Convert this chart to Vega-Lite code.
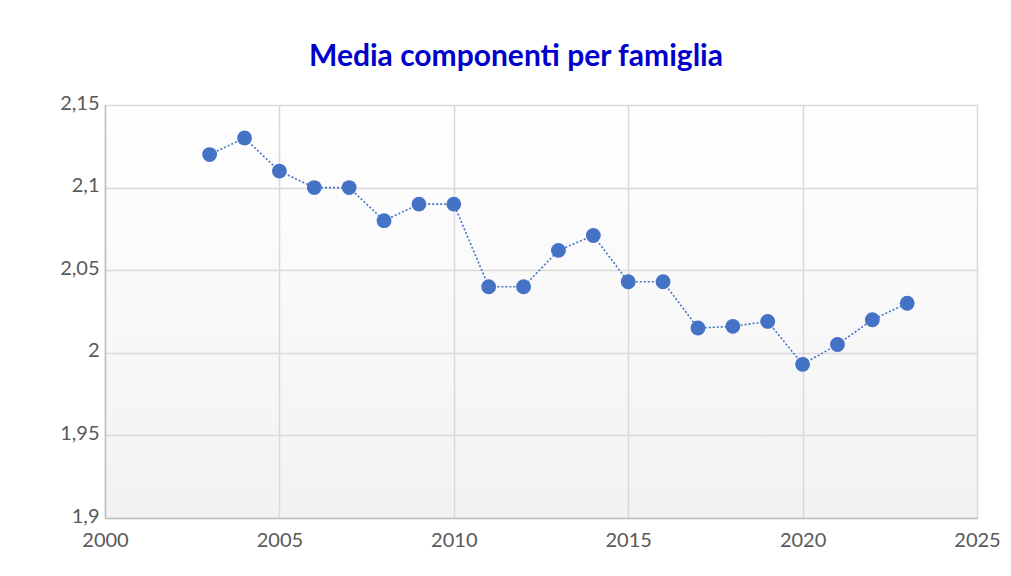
{
  "$schema": "https://vega.github.io/schema/vega-lite/v6.json",
  "width": 872,
  "height": 413,
  "autosize": {"type": "none"},
  "padding": {"left": 105, "top": 105, "right": 34, "bottom": 58},
  "background": "#ffffff",
  "title": {
    "text": "Media componenti per famiglia",
    "font": "Lato",
    "fontSize": 30,
    "fontWeight": "bold",
    "color": "#0000CC",
    "anchor": "middle",
    "dx": -25,
    "offset": 21
  },
  "config": {
    "view": {
      "stroke": null,
      "fill": {"gradient": "linear", "x1": 0, "y1": 0, "x2": 0, "y2": 1,
        "stops": [{"offset": 0, "color": "#ffffff"}, {"offset": 1, "color": "#f2f2f2"}]}
    },
    "axis": {
      "labelFont": "Lato",
      "labelFontSize": 20,
      "labelColor": "#595959",
      "labelFlush": false,
      "labelOverlap": false,
      "gridColor": "#d9d9d9",
      "gridWidth": 1.5,
      "domainColor": "#bfbfbf",
      "domainWidth": 1.5,
      "ticks": false,
      "title": null
    }
  },
  "data": {
    "values": [
      {"anno": 2003, "media": 2.12},
      {"anno": 2004, "media": 2.13},
      {"anno": 2005, "media": 2.11},
      {"anno": 2006, "media": 2.10},
      {"anno": 2007, "media": 2.10},
      {"anno": 2008, "media": 2.08},
      {"anno": 2009, "media": 2.09},
      {"anno": 2010, "media": 2.09},
      {"anno": 2011, "media": 2.04},
      {"anno": 2012, "media": 2.04},
      {"anno": 2013, "media": 2.062},
      {"anno": 2014, "media": 2.071},
      {"anno": 2015, "media": 2.043},
      {"anno": 2016, "media": 2.043},
      {"anno": 2017, "media": 2.015},
      {"anno": 2018, "media": 2.016},
      {"anno": 2019, "media": 2.019},
      {"anno": 2020, "media": 1.993},
      {"anno": 2021, "media": 2.005},
      {"anno": 2022, "media": 2.02},
      {"anno": 2023, "media": 2.03}
    ]
  },
  "encoding": {
    "x": {
      "field": "anno",
      "type": "quantitative",
      "scale": {"domain": [2000, 2025], "nice": false, "zero": false},
      "axis": {"values": [2000, 2005, 2010, 2015, 2020, 2025], "format": "d", "labelPadding": 12, "domain": true}
    },
    "y": {
      "field": "media",
      "type": "quantitative",
      "scale": {"domain": [1.9, 2.15], "nice": false, "zero": false},
      "axis": {
        "values": [1.9, 1.95, 2.0, 2.05, 2.1, 2.15],
        "labelExpr": "replace(format(datum.value, '.3~r'), '.', ',')",
        "labelPadding": 6,
        "labelOffset": -2
      }
    }
  },
  "layer": [
    {
      "mark": {"type": "line", "color": "#4472C4", "strokeWidth": 1.6, "strokeDash": [2, 2]}
    },
    {
      "mark": {"type": "point", "filled": true, "opacity": 1, "color": "#4472C4", "size": 220}
    }
  ]
}
